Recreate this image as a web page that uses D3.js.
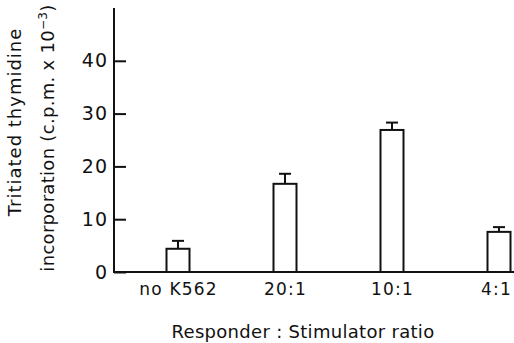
<!DOCTYPE html>
<html>
<head>
<meta charset="utf-8">
<script src="https://cdn.jsdelivr.net/npm/d3@7"></script>
<style>
  body { margin: 0; background: #fff; }
  svg text { font-family: "DejaVu Sans", sans-serif; fill: #111; }
</style>
</head>
<body>
<div id="chart"></div>
<script>
const categories = ["no K562", "20:1", "10:1", "4:1"];
const values = [4.4, 16.7, 26.9, 7.6];
const errors = [1.5, 1.9, 1.4, 0.9];
const yTicks = [0, 10, 20, 30, 40];

const width = 514, height = 343;
const svg = d3.select("#chart").append("svg")
    .attr("width", width)
    .attr("height", height);

const x0 = 114, y0 = 272;

const y = d3.scaleLinear().domain([0, 50]).range([y0, 8]);
const x = d3.scalePoint().domain(categories).range([178, 499]);
const barW = 23;

// y axis
const yAxis = d3.axisRight(y).tickValues(yTicks).tickSize(12).tickFormat(d3.format("d"));
const yG = svg.append("g")
    .attr("transform", "translate(" + x0 + ",0)")
    .call(yAxis);
yG.select(".domain").remove();
yG.selectAll(".tick line").attr("stroke", "#111").attr("stroke-width", 2);
yG.selectAll(".tick text")
    .attr("x", -6)
    .attr("text-anchor", "end")
    .attr("font-size", 19)
    .attr("letter-spacing", 1);

svg.append("line")
    .attr("x1", x0).attr("x2", x0)
    .attr("y1", y(50)).attr("y2", y0 + 1)
    .attr("stroke", "#111").attr("stroke-width", 2);
svg.append("line")
    .attr("x1", x0 - 1).attr("x2", width)
    .attr("y1", y0).attr("y2", y0)
    .attr("stroke", "#111").attr("stroke-width", 2);

// x labels
const xAxis = d3.axisBottom(x).tickSize(0);
const xG = svg.append("g")
    .attr("transform", "translate(0," + y0 + ")")
    .call(xAxis);
xG.select(".domain").remove();
xG.selectAll(".tick text")
    .attr("y", 11)
    .attr("dy", "0.71em")
    .attr("font-size", 17)
    .attr("letter-spacing", 1.2)
    .attr("dx", (d, i) => i === categories.length - 1 ? -3 : 0);

// bars
const bars = svg.append("g");
categories.forEach((c, i) => {
    const cx = x(c);
    bars.append("line")
        .attr("x1", cx).attr("x2", cx)
        .attr("y1", y(values[i])).attr("y2", y(values[i] + errors[i]))
        .attr("stroke", "#111").attr("stroke-width", 2);
    bars.append("line")
        .attr("x1", cx - 6).attr("x2", cx + 6)
        .attr("y1", y(values[i] + errors[i])).attr("y2", y(values[i] + errors[i]))
        .attr("stroke", "#111").attr("stroke-width", 2);
    bars.append("rect")
        .attr("x", cx - barW / 2)
        .attr("y", y(values[i]))
        .attr("width", barW)
        .attr("height", y0 - y(values[i]))
        .attr("fill", "#fff")
        .attr("stroke", "#111").attr("stroke-width", 2);
});

// axis titles
svg.append("text")
    .attr("x", 303).attr("y", 338)
    .attr("text-anchor", "middle")
    .attr("font-size", 18)
    .attr("letter-spacing", 0.3)
    .text("Responder : Stimulator ratio");

svg.append("text")
    .attr("transform", "translate(21,122) rotate(-90)")
    .attr("text-anchor", "middle")
    .attr("font-size", 18)
    .attr("letter-spacing", 1)
    .text("Tritiated thymidine");

const yt2 = svg.append("text")
    .attr("transform", "translate(54,138) rotate(-90)")
    .attr("text-anchor", "middle")
    .attr("font-size", 18)
    .attr("letter-spacing", 0.3);
yt2.append("tspan").text("incorporation (c.p.m. x 10");
yt2.append("tspan").attr("dy", -7).attr("font-size", 12).text("−3");
yt2.append("tspan").attr("dy", 7).text(")");
</script>
</body>
</html>
